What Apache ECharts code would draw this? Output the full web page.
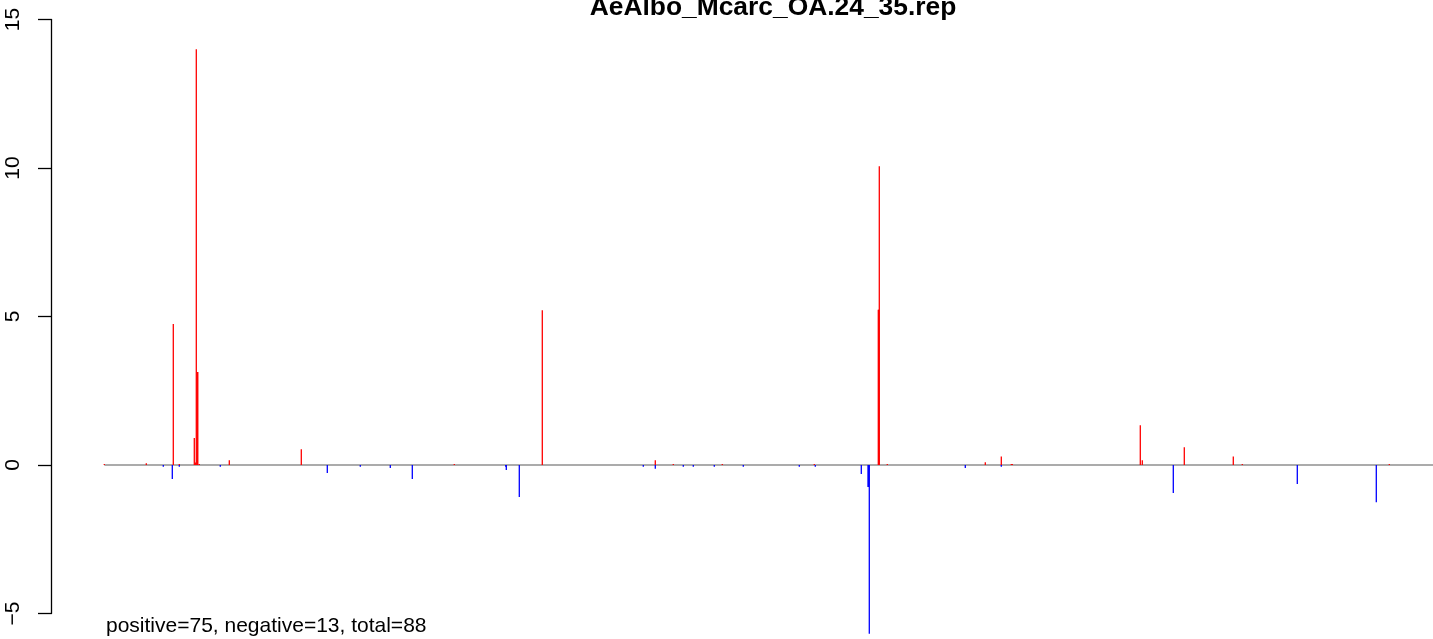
<!DOCTYPE html>
<html>
<head>
<meta charset="utf-8">
<script src="https://cdn.jsdelivr.net/npm/echarts@6/dist/echarts.min.js"></script>
<style>
html,body{margin:0;padding:0;background:#fff;}
#chart{width:1433px;height:639px;}
</style>
</head>
<body>
<div id="chart"></div>
<script>
// ---- data (positions along the sequence) ----
const titleText = "AeAlbo_Mcarc_OA.24_35.rep";
const noteText = "positive=75, negative=13, total=88";
const yTicks = [-5, 0, 5, 10, 15];

const redPos = [53.3, 95.3, 122.3, 128.3, 143.3, 144.3, 145.3, 146.3, 146.8, 148.3, 178.3, 250.3, 403.3, 491.3, 604.3, 622.3, 671.3, 763.3, 827.3, 827.8, 828.3, 836.3, 934.3, 950.3, 960.3, 961.3, 1089.3, 1091.3, 1133.3, 1182.3, 1191.3, 1338.3];
const redVal = [0.03, 0.06, 4.75, 0.03, 0.91, 0.08, 14.0, 3.13, 3.13, 0.03, 0.16, 0.53, 0.03, 5.21, 0.16, 0.03, 0.03, 0.03, 5.23, 5.23, 10.06, 0.03, 0.09, 0.29, 0.03, 0.03, 1.34, 0.16, 0.6, 0.29, 0.03, 0.03];

const bluePos = [112.3, 121.3, 128.3, 169.3, 276.3, 309.3, 339.3, 361.3, 454.7, 455.3, 468.3, 592.3, 604.3, 632.3, 642.3, 663.3, 692.3, 748.3, 764.3, 810.3, 817.0, 817.7, 818.3, 914.3, 950.3, 1122.3, 1246.3, 1325.3];
const blueVal = [-0.06, -0.47, -0.06, -0.06, -0.27, -0.06, -0.1, -0.47, -0.06, -0.17, -1.08, -0.06, -0.13, -0.06, -0.06, -0.06, -0.06, -0.06, -0.06, -0.3, -0.74, -0.74, -5.68, -0.1, -0.06, -0.94, -0.64, -1.25];

const baseStart = 53.3, baseEnd = 1382;

// ---- chart ----
const chart = echarts.init(document.getElementById('chart'), null, {renderer: 'canvas'});
const FONT = '"Liberation Sans", Arial, Helvetica, sans-serif';

function spikes(color) {
  return function (params, api) {
    const x = api.value(0), y = api.value(1);
    const p0 = api.coord([x, 0]);
    const p1 = api.coord([x, y]);
    return {
      type: 'line',
      shape: {x1: p0[0], y1: p0[1], x2: p1[0], y2: p1[1]},
      style: {stroke: color, lineWidth: 1.3}
    };
  };
}

const option = {
  animation: false,
  backgroundColor: '#ffffff',
  grid: {left: 51, right: 0, top: 19.5, height: 594, containLabel: false},
  xAxis: {type: 'value', min: 0, max: 1382, show: false},
  yAxis: {
    type: 'value', min: yTicks[0], max: yTicks[yTicks.length - 1], interval: 5,
    axisLine: {show: true, lineStyle: {color: '#000', width: 1.3}},
    axisTick: {show: true, length: 13, lineStyle: {color: '#000', width: 1.3}},
    splitLine: {show: false},
    axisLabel: {
      rotate: 90, margin: 27, color: '#000', fontSize: 21, fontFamily: FONT,
      formatter: v => (v < 0 ? '\u2212' + Math.abs(v) : String(v))
    }
  },
  title: {
    text: titleText, left: 768, top: -10, textAlign: 'center',
    textStyle: {fontSize: 26.4, fontWeight: 'bold', color: '#000', fontFamily: FONT}
  },
  graphic: [{
    type: 'text', left: 106, top: 616,
    style: {text: noteText, fill: '#000', font: '21px ' + FONT}
  }],
  series: [
    {
      type: 'line', data: [[baseStart, 0], [baseEnd, 0]], symbol: 'none', silent: true,
      lineStyle: {color: '#8f8f8f', width: 1.3}, z: 1
    },
    {
      type: 'custom', clip: false, z: 2,
      data: redPos.map((p, i) => [p, redVal[i]]),
      renderItem: spikes('#ff0000')
    },
    {
      type: 'custom', clip: false, z: 3,
      data: bluePos.map((p, i) => [p, blueVal[i]]),
      renderItem: spikes('#0000ff')
    }
  ]
};
chart.setOption(option);
</script>
</body>
</html>
